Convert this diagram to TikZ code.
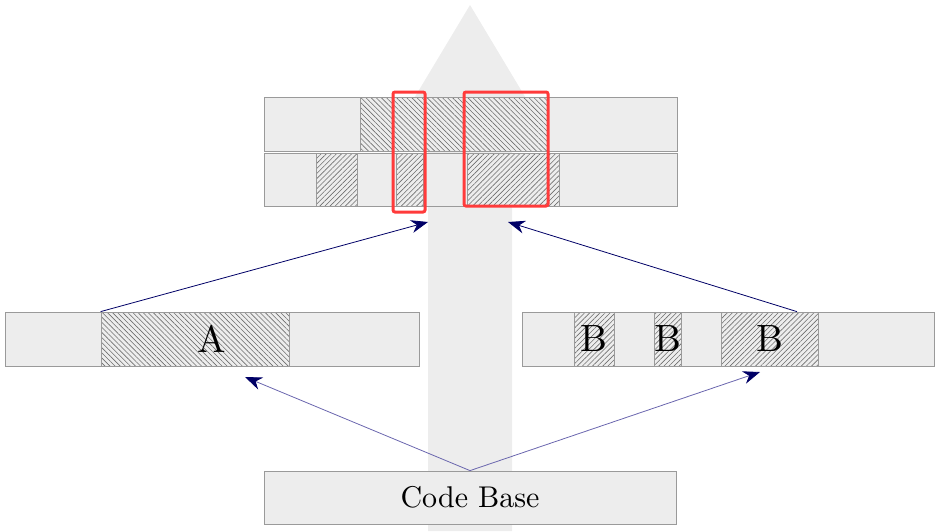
\documentclass[tikz,border=0pt]{standalone}
\usepackage{fontspec}
\setmainfont{lmroman10-regular.otf}
\usetikzlibrary{patterns.meta,arrows.meta}

\definecolor{barfill}{HTML}{EDEDED}
\definecolor{barline}{HTML}{9A9A9A}
\definecolor{hatchline}{HTML}{6E6E6E}
\definecolor{navyline}{HTML}{000066}
\definecolor{softnavy}{HTML}{6A66AE}
\definecolor{markred}{HTML}{FF3B3B}

\tikzset{
  bar/.style={draw=barline, fill=barfill, line width=0.8pt, inner sep=0pt, minimum height=53pt},
  hatchnw/.style={bar, preaction={fill=barfill}, pattern={Lines[angle=-45, distance=3.6pt, line width=0.6pt]}, pattern color=hatchline},
  hatchne/.style={bar, preaction={fill=barfill}, pattern={Lines[angle=45, distance=3.6pt, line width=0.6pt]}, pattern color=hatchline},
  clashbox/.style={draw=markred, line width=3pt, rounded corners=2pt, inner sep=0pt},
  big/.style={font=\fontsize{38}{42}\selectfont},
  flow/.style={draw=navyline, line width=0.8pt, -{Stealth[length=17pt,width=13pt]}},
  softflow/.style={draw=softnavy, line width=0.8pt, -{Stealth[length=17pt,width=13pt,color=navyline]}}
}

\begin{document}
\begin{tikzpicture}[x=1pt,y=-1pt]
\useasboundingbox (0,0) rectangle (939,531);

% direction of time
\fill[barfill] (428,531) -- (428,100) -- (413,100) -- (470,5) -- (527,100) -- (512,100) -- (512,531) -- cycle;

% merged result
\node[bar, minimum width=413pt, minimum height=54pt] (top1) at (470.5,124) {};
\node[hatchnw, minimum width=187pt, minimum height=54pt] (top1h) at (453.5,124) {};
\node[bar, minimum width=413pt] (top2) at (470.5,179.5) {};
\node[hatchne, minimum width=41pt] (top2a) at (336.5,179.5) {};
\node[hatchne, minimum width=27pt] (top2b) at (409.5,179.5) {};
\node[hatchne, minimum width=92pt] (top2c) at (513,179.5) {};

\node[clashbox, minimum width=32pt, minimum height=120pt] (clash1) at (409,152) {};
\node[clashbox, minimum width=84pt, minimum height=114pt] (clash2) at (506,149) {};

% branch A
\node[bar, minimum width=414pt, minimum height=54pt] (barA) at (212,339) {};
\node[hatchnw, minimum width=188pt, minimum height=54pt] (hA) at (195,339) {};
\node[big] (lblA) at (barA.center) {A};

% branch B
\node[bar, minimum width=412pt, minimum height=54pt] (barB) at (728,339) {};
\node[hatchne, minimum width=40pt, minimum height=54pt, big] (hB1) at (594,339) {B};
\node[hatchne, minimum width=27pt, minimum height=54pt, big] (hB2) at (667.5,339) {B};
\node[hatchne, minimum width=97pt, minimum height=54pt, big] (hB3) at (769.5,339) {B};

% common ancestor
\node[bar, minimum width=412pt, font=\fontsize{30}{36}\selectfont] (base) at (470,497.5) {Code Base};

\coordinate (inA) at (428,222);
\coordinate (inB) at (508,222);
\coordinate (toA) at (245,377);
\coordinate (toB) at (760,372);

\draw[flow] (hA.north west) -- (inA);
\draw[flow] (hB3.45) -- (inB);
\draw[softflow] (base.north) -- (toA);
\draw[softflow] (base.north) -- (toB);
\end{tikzpicture}
\end{document}
